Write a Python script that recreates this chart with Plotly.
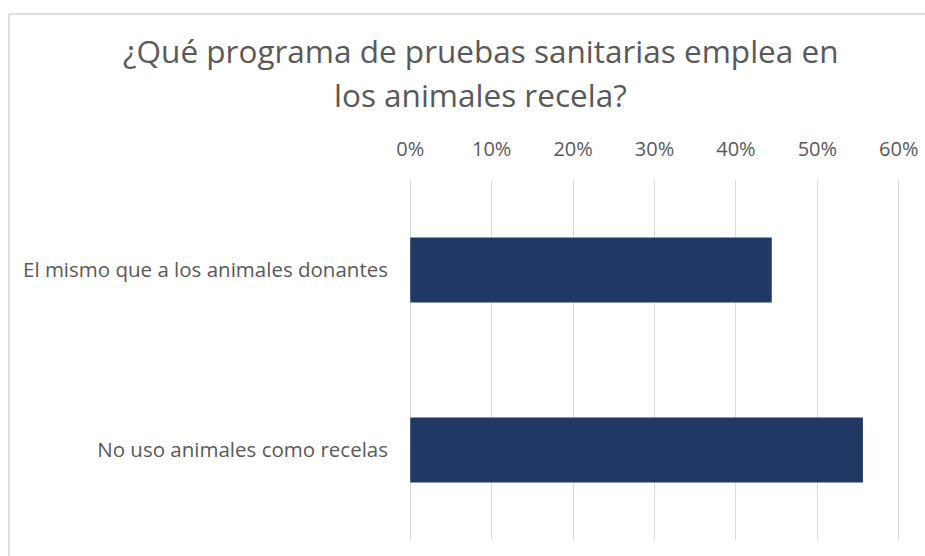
import plotly.graph_objects as go

categories = ["El mismo que a los animales donantes", "No uso animales como recelas"]
values = [0.444, 0.556]
tick_vals = [0, 0.1, 0.2, 0.3, 0.4, 0.5, 0.6]
tick_text = ["0%", "10%", "20%", "30%", "40%", "50%", "60%"]
title_lines = ["¿Qué programa de pruebas sanitarias emplea en", "los animales recela?"]

W, H = 925, 556
L, R, T, B = 407, 23, 180, 16
pw, ph = W - L - R, H - T - B

def px_to_paper_x(px):
    return (px - L) / pw

def px_to_paper_y(py):
    return (H - B - py) / ph

FONT = "Open Sans"
GREY = "#595959"

fig = go.Figure(go.Bar(
    x=values, y=categories, orientation="h",
    marker=dict(color="#203864", line=dict(width=0)),
    hoverinfo="skip",
))

fig.update_layout(
    width=W, height=H,
    margin=dict(l=L, r=R, t=T, b=B, autoexpand=False),
    paper_bgcolor="white", plot_bgcolor="white",
    showlegend=False,
    bargap=0.64,
    font=dict(family=FONT, color=GREY),
    xaxis=dict(
        side="top", range=[-0.004, 0.604], tickvals=tick_vals, ticktext=tick_text,
        showgrid=True, gridcolor="#d9d9d9", gridwidth=1,
        zeroline=False, showline=False, ticks="",
        tickfont=dict(family=FONT, size=20, color=GREY),
        ticklabelstandoff=19, fixedrange=True,
    ),
    yaxis=dict(
        autorange="reversed", showgrid=False, zeroline=False, showline=False,
        ticks="", tickfont=dict(family=FONT, size=20.5, color=GREY),
        ticklabelstandoff=18, fixedrange=True,
    ),
    shapes=[dict(
        type="rect", xref="paper", yref="paper",
        x0=px_to_paper_x(9), x1=px_to_paper_x(W + 20),
        y0=px_to_paper_y(H + 20), y1=px_to_paper_y(14),
        line=dict(color="#bfbfbf", width=1), fillcolor="rgba(0,0,0,0)", layer="below",
    )],
    annotations=[
        dict(text=title_lines[0], xref="paper", yref="paper",
             x=px_to_paper_x(480), y=px_to_paper_y(50.5), xanchor="center", yanchor="middle",
             showarrow=False, font=dict(family=FONT, size=31.5, color=GREY)),
        dict(text=title_lines[1], xref="paper", yref="paper",
             x=px_to_paper_x(480), y=px_to_paper_y(95), xanchor="center", yanchor="middle",
             showarrow=False, font=dict(family=FONT, size=31.5, color=GREY)),
    ],
)

fig.write_html("out.html", config={"displayModeBar": False},
               post_script="document.body.style.margin='0';document.body.style.overflow='hidden';")
